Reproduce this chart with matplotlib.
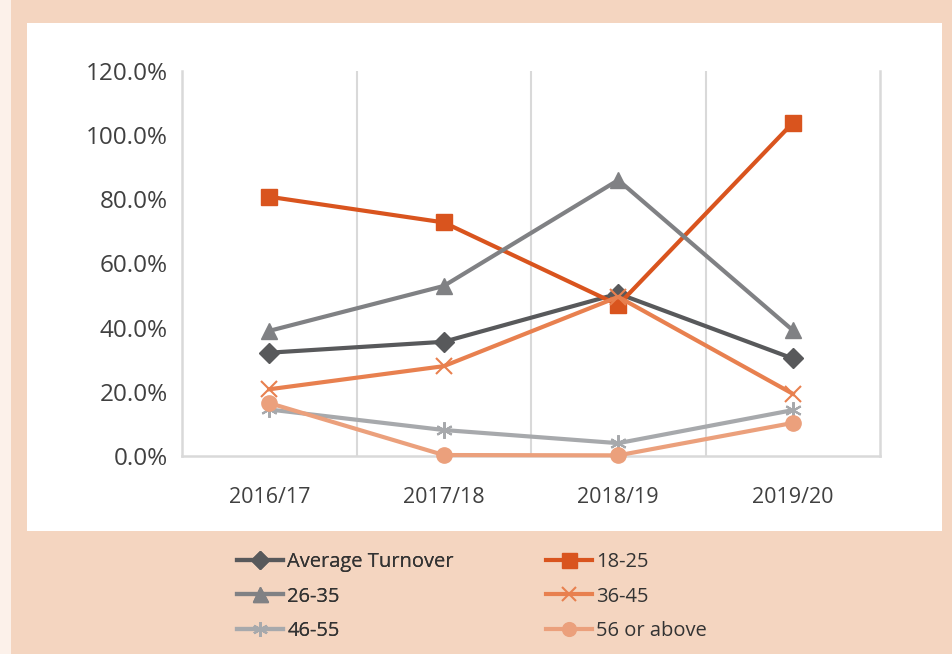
import matplotlib
matplotlib.use("Agg")
import matplotlib.pyplot as plt
from matplotlib.patches import Rectangle

years = ["2016/17", "2017/18", "2018/19", "2019/20"]
avg_turnover = [0.322, 0.356, 0.506, 0.304]
age_18_25 = [0.808, 0.728, 0.471, 1.038]
age_26_35 = [0.390, 0.530, 0.860, 0.392]
age_36_45 = [0.208, 0.280, 0.496, 0.194]
age_46_55 = [0.145, 0.081, 0.040, 0.143]
age_56_plus = [0.165, 0.003, 0.002, 0.103]
y_ticks = [0.0, 0.2, 0.4, 0.6, 0.8, 1.0, 1.2]

plt.rcParams['font.family'] = ['Open Sans', 'DejaVu Sans']

W, H = 953, 654
fig = plt.figure(figsize=(W / 100, H / 100), dpi=100)
fig.patch.set_facecolor("#F4D5C0")

# light strip on the far left
fig.patches.append(Rectangle((0, 0), 11 / W, 1, transform=fig.transFigure,
                             facecolor="#FCF1EA", edgecolor="none", zorder=0))
# white chart panel
fig.patches.append(Rectangle((27 / W, 1 - 531 / H), (942 - 27) / W, (531 - 23) / H,
                             transform=fig.transFigure, facecolor="white",
                             edgecolor="none", zorder=0))

ax = fig.add_axes([182 / W, 1 - 456 / H, (880 - 182) / W, (456 - 71) / H])
ax.set_facecolor("none")
ax.set_zorder(2)

x = list(range(len(years)))
series = [
    ("Average Turnover", avg_turnover, "#58595B", "D", 10, {}),
    ("18-25", age_18_25, "#D9541E", "s", 12, {}),
    ("26-35", age_26_35, "#808184", "^", 12, {}),
    ("36-45", age_36_45, "#E8804F", "x", 11, {"markeredgewidth": 1.5}),
    ("46-55", age_46_55, "#A7A9AC", (6, 2, 0), 12, {"markeredgewidth": 1.5}),
    ("56 or above", age_56_plus, "#EBA07C", "o", 11, {}),
]
handles = {}
for i, (name, vals, col, mk, ms, extra) in enumerate(series):
    ln, = ax.plot(x, vals, color=col, lw=3, marker=mk, markersize=ms,
                  markerfacecolor=col, markeredgecolor=col, label=name,
                  zorder=3 + i, clip_on=False, **extra)
    handles[name] = ln

ax.set_xlim(-0.5, 3.5)
ax.set_ylim(0, 1.2)
ax.set_yticks(y_ticks)
ax.set_yticklabels([f"{v * 100:.1f}%" for v in y_ticks])
ax.set_xticks(x)
ax.set_xticklabels(years)
ax.tick_params(axis="both", length=0, colors="#404040")
ax.tick_params(axis="y", labelsize=17.5, pad=10)
ax.tick_params(axis="x", labelsize=15.5, pad=22)

grid_c = "#D9D9D9"
for xv in [0.5, 1.5, 2.5]:
    ax.axvline(xv, color=grid_c, lw=1.5, zorder=1)
ax.spines["top"].set_visible(False)
for s in ["left", "right", "bottom"]:
    ax.spines[s].set_color(grid_c)
    ax.spines[s].set_linewidth(1.8)

leg_kw = dict(frameon=False, fontsize=14.5, handlelength=2.3, handletextpad=0.2,
              labelspacing=0.72, borderpad=0, borderaxespad=0, loc="upper left",
              labelcolor="#333333", markerscale=0.9)
col1 = ["Average Turnover", "26-35", "46-55"]
col2 = ["18-25", "36-45", "56 or above"]
leg1 = fig.legend([handles[n] for n in col1], col1,
                  bbox_to_anchor=(237 / W, 1 - 552 / H), **leg_kw)
fig.add_artist(leg1)
leg2 = fig.legend([handles[n] for n in col2], col2,
                  bbox_to_anchor=(546 / W, 1 - 552 / H), **leg_kw)

fig.savefig("out.png", dpi=100, facecolor=fig.get_facecolor())
